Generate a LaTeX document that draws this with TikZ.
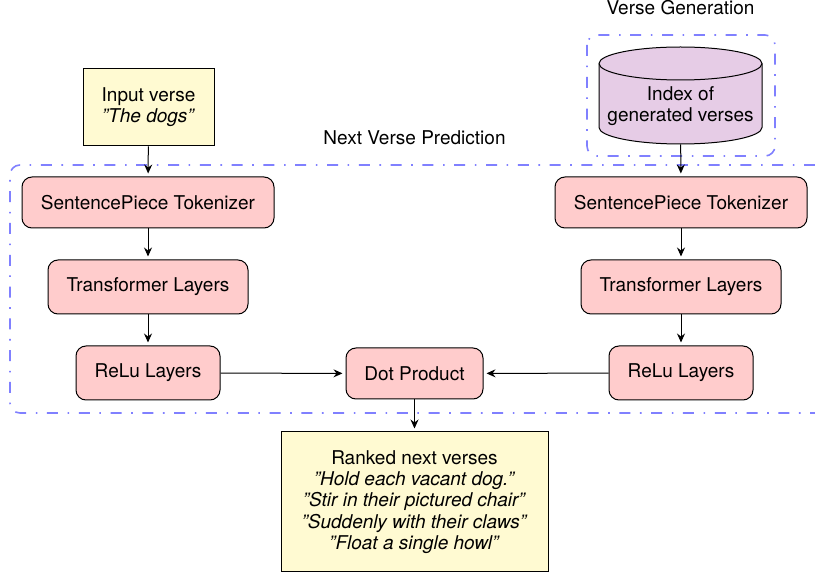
\documentclass[tikz,border=0pt]{standalone}
\usepackage{fontspec}
\setmainfont{TeX Gyre Heros}
\usepackage{xcolor}
\usetikzlibrary{
    positioning,
    arrows.meta
}
\definecolor{boxPink}{RGB}{255, 204, 204}
\definecolor{boxYellow}{RGB}{255, 250, 210}
\definecolor{boxViolet}{RGB}{230, 204, 230}
\definecolor{groupBlue}{RGB}{128, 128, 255}
\begin{document}
\begin{tikzpicture}[x=0.5pt, y=-0.5pt, >={Stealth[length=4.5pt,width=4pt,inset=1.5pt]},
        layerbox/.style={draw, line width=0.5pt, rounded corners=5pt, fill=boxPink, minimum height=25.5pt, align=center, inner sep=0pt},
        textbox/.style={draw, line width=0.5pt, fill=boxYellow, align=center, inner sep=0pt},
        groupline/.style={groupBlue, line width=0.8pt, rounded corners=5pt, dash pattern=on 5.5pt off 4.8pt on 0.8pt off 4.8pt},
        flow/.style={->, line width=0.5pt, shorten >=1.5pt},
        every node/.style={font=\fontsize{9.5}{10.6}\selectfont}]
        \useasboundingbox (0,0) rectangle (815,577);

        % dashed groups
        \draw[groupline] (815,165) -- (10,165) -- (10,413) -- (815,413);
        \draw[groupline] (587,35) rectangle (775,156);
        \node (genlabel) at (680.5,8) {Verse Generation};
        \node (predlabel) at (414.5,138) {Next Verse Prediction};

        \node[textbox, minimum width=65.5pt, minimum height=38.5pt] (input) at (148.5,107.5) {Input verse\\\textit{''The dogs''}};

        % cylinder by hand
        \draw[line width=0.5pt, fill=boxViolet] (599,63.5) -- (599,127.5) arc[x radius=40.75pt, y radius=8.25pt, start angle=180, end angle=360] -- (762,63.5) arc[x radius=40.75pt, y radius=8.25pt, start angle=0, end angle=180];
        \draw[line width=0.5pt] (599,63.5) arc[x radius=40.75pt, y radius=8.25pt, start angle=180, end angle=360];
        \node[minimum width=81.5pt, minimum height=38pt, inner sep=0pt, align=center] (index) at (680.5,106) {Index of\\generated verses};

        % left column
        \node[layerbox, minimum width=126pt] (tokleft) at (148,202.5) {SentencePiece Tokenizer};
        \node[layerbox, minimum width=100pt, minimum height=27pt] (transleft) at (148,287) {Transformer Layers};
        \node[layerbox, minimum width=72pt, minimum height=27pt] (reluleft) at (148,373) {ReLu Layers};

        % right column
        \node[layerbox, minimum width=126pt] (tokright) at (681,202.5) {SentencePiece Tokenizer};
        \node[layerbox, minimum width=100pt, minimum height=27pt] (transright) at (681,287) {Transformer Layers};
        \node[layerbox, minimum width=72pt, minimum height=27pt] (reluright) at (681,373) {ReLu Layers};

        \node[layerbox, minimum width=68.5pt] (dot) at (414.5,373.5) {Dot Product};
        \node[textbox, minimum width=133.5pt, minimum height=70pt] (ranked) at (414.5,502) {Ranked next verses\\\textit{''Hold each vacant dog.''}\\\textit{''Stir in their pictured chair''}\\\textit{''Suddenly with their claws''}\\\textit{''Float a single howl''}};

        \draw[flow] (input) -- (tokleft);
        \draw[flow] (tokleft) -- (transleft);
        \draw[flow] (transleft) -- (reluleft);
        \draw[flow] (index) -- (tokright);
        \draw[flow] (tokright) -- (transright);
        \draw[flow] (transright) -- (reluright);
        \draw[flow] (reluleft) -- (dot);
        \draw[flow] (reluright) -- (dot);
        \draw[flow] (dot) -- (ranked);
    \end{tikzpicture}
\end{document}
